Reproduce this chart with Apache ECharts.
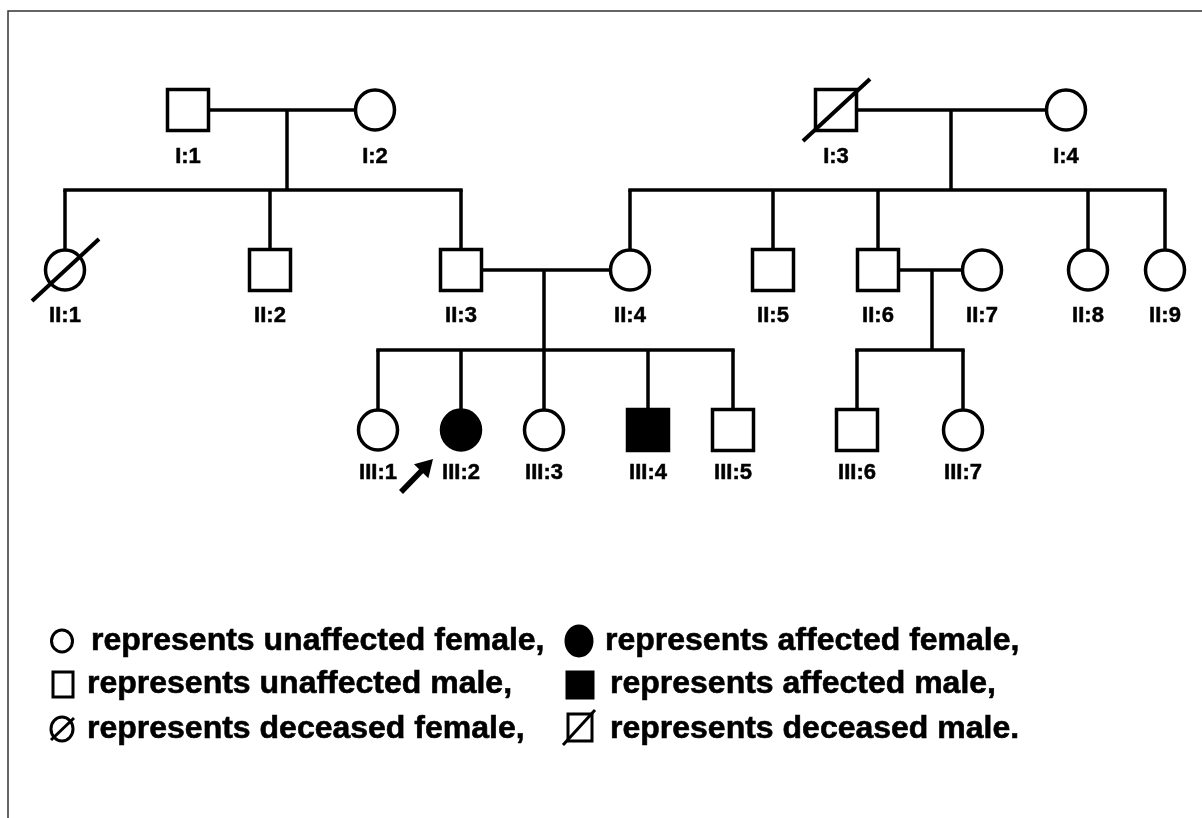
<!DOCTYPE html>
<html>
<head>
<meta charset="utf-8">
<script src="https://cdn.jsdelivr.net/npm/echarts@6/dist/echarts.min.js"></script>
<style>
  html, body { margin: 0; padding: 0; background: #fff; }
  #chart { width: 1202px; height: 818px; }
</style>
</head>
<body>
<div id="chart"></div>
<script>
// individuals of the pedigree
const people = ['I:1', 'I:2', 'I:3', 'I:4',
  'II:1', 'II:2', 'II:3', 'II:4', 'II:5', 'II:6', 'II:7', 'II:8', 'II:9',
  'III:1', 'III:2', 'III:3', 'III:4', 'III:5', 'III:6', 'III:7'];
const peopleX = [188, 375, 836, 1066,
  65, 270, 461, 630, 773, 878, 982, 1088, 1165,
  378, 461, 544, 648, 733, 857, 963];
const generation = [0, 0, 0, 0, 1, 1, 1, 1, 1, 1, 1, 1, 1, 2, 2, 2, 2, 2, 2, 2];
const sex = ['M', 'F', 'M', 'F',
  'F', 'M', 'M', 'F', 'M', 'M', 'F', 'F', 'F',
  'F', 'F', 'F', 'M', 'M', 'M', 'F'];
const affected = ['III:2', 'III:4'];
const deceased = ['I:3', 'II:1'];
const proband = 'III:2';
// row of each generation
const genY = [110, 270, 430];

// families: couple, where the line drops, sibship line, children
const couples = [['I:1', 'I:2'], ['I:3', 'I:4'], ['II:3', 'II:4'], ['II:6', 'II:7']];
const dropX = [287, 951, 544, 932];
const sibshipY = [190, 190, 350, 350];
const children = [
  ['II:1', 'II:2', 'II:3'],
  ['II:4', 'II:5', 'II:6', 'II:8', 'II:9'],
  ['III:1', 'III:2', 'III:3', 'III:4', 'III:5'],
  ['III:6', 'III:7']
];

const legendText = [
  'represents unaffected female,', 'represents affected female,',
  'represents unaffected male,', 'represents affected male,',
  'represents deceased female,', 'represents deceased male.'
];

const FONT = "'Liberation Sans', Arial, Helvetica, sans-serif";
const labelDy = [47, 46, 43];
const LW = 3.5;

function idx(name) { return people.indexOf(name); }

const chart = echarts.init(document.getElementById('chart'));

// 家系连线
function renderFamily(params, api) {
  const k = params.dataIndex;
  const [fa, mo] = couples[k];
  const gy = genY[generation[idx(fa)]];
  const a = api.coord([peopleX[idx(fa)], gy]);
  const b = api.coord([peopleX[idx(mo)], gy]);
  const d = api.coord([api.value(0), api.value(1)]);
  const style = { stroke: '#000', lineWidth: LW };
  const els = [];
  els.push({ type: 'line', shape: { x1: a[0], y1: a[1], x2: b[0], y2: b[1] }, style });
  els.push({ type: 'line', shape: { x1: d[0], y1: a[1], x2: d[0], y2: d[1] }, style });
  let xs = children[k].map(c => api.coord([peopleX[idx(c)], genY[generation[idx(c)]]]));
  const minX = Math.min(d[0], ...xs.map(p => p[0]));
  const maxX = Math.max(d[0], ...xs.map(p => p[0]));
  els.push({ type: 'line', shape: { x1: minX - LW / 2, y1: d[1], x2: maxX + LW / 2, y2: d[1] }, style });
  xs.forEach(p => {
    els.push({ type: 'line', shape: { x1: p[0], y1: d[1], x2: p[0], y2: p[1] }, style });
  });
  return { type: 'group', children: els };
}

// 个体符号
function renderPerson(params, api) {
  const i = params.dataIndex;
  const name = people[i];
  const c = api.coord([api.value(0), api.value(1)]);
  const fill = affected.includes(name) ? '#000' : '#fff';
  const style = { fill, stroke: '#000', lineWidth: LW };
  const els = [];
  if (sex[i] === 'M') {
    els.push({ type: 'rect', shape: { x: c[0] - 20.5, y: c[1] - 20.5, width: 41, height: 41 }, style });
  } else {
    els.push({ type: 'ellipse', shape: { cx: c[0], cy: c[1], rx: 19.5, ry: 20 }, style });
  }
  if (deceased.includes(name)) {
    els.push({ type: 'line', shape: { x1: c[0] - 33, y1: c[1] + 31, x2: c[0] + 34, y2: c[1] - 31 },
      style: { stroke: '#000', lineWidth: LW + 0.5 } });
  }
  els.push({
    type: 'text', x: c[0], y: c[1] + labelDy[generation[i]],
    style: { text: name, fill: '#000', font: 'bold 22px ' + FONT, align: 'center', verticalAlign: 'middle',
      stroke: '#000', lineWidth: 0.5 }
  });
  if (name === proband) {
    const tip = [c[0] - 28, c[1] + 29];
    const tail = [c[0] - 60, c[1] + 62];
    const dx = tip[0] - tail[0], dy = tip[1] - tail[1];
    const len = Math.sqrt(dx * dx + dy * dy);
    const ux = dx / len, uy = dy / len;
    const base = [tip[0] - 17 * ux, tip[1] - 17 * uy];
    els.push({ type: 'line', shape: { x1: tail[0], y1: tail[1], x2: base[0] + 2 * ux, y2: base[1] + 2 * uy },
      style: { stroke: '#000', lineWidth: 5.5 } });
    els.push({ type: 'polygon', shape: { points: [tip,
      [base[0] - 10 * uy, base[1] + 10 * ux], [base[0] + 10 * uy, base[1] - 10 * ux]] },
      style: { fill: '#000' } });
  }
  return { type: 'group', children: els };
}

// 图例
const legendX = [62, 579];
const legendRowY = [641, 684, 729];
const legendTextX = [[91, 605], [87, 610], [87, 610]];
const legendEls = [];
const lw = { stroke: '#000', lineWidth: 3 };
legendEls.push({ type: 'ellipse', shape: { cx: legendX[0], cy: legendRowY[0], rx: 10.5, ry: 11 }, style: { fill: '#fff', ...lw } });
legendEls.push({ type: 'ellipse', shape: { cx: legendX[1], cy: legendRowY[0], rx: 13, ry: 15 }, style: { fill: '#000', ...lw } });
legendEls.push({ type: 'rect', shape: { x: 53, y: 672, width: 20, height: 25 }, style: { fill: '#fff', ...lw } });
legendEls.push({ type: 'rect', shape: { x: 567, y: 672, width: 26, height: 26 }, style: { fill: '#000', ...lw } });
legendEls.push({ type: 'ellipse', shape: { cx: legendX[0], cy: legendRowY[2], rx: 11, ry: 12 }, style: { fill: '#fff', ...lw } });
legendEls.push({ type: 'line', shape: { x1: 51, y1: 740, x2: 74, y2: 718 }, style: lw });
legendEls.push({ type: 'rect', shape: { x: 568, y: 714, width: 24, height: 27 }, style: { fill: '#fff', ...lw } });
legendEls.push({ type: 'line', shape: { x1: 563, y1: 745, x2: 595, y2: 710 }, style: lw });
legendText.forEach((t, j) => {
  const r = Math.floor(j / 2), col = j % 2;
  legendEls.push({ type: 'text', x: legendTextX[r][col], y: legendRowY[r],
    style: { text: t, fill: '#000', font: 'bold 32px ' + FONT, verticalAlign: 'middle',
      stroke: '#000', lineWidth: 0.6 } });
});
// frame
legendEls.push({ type: 'polyline', shape: { points: [[8, 818], [8, 11], [1202, 11]] },
  style: { stroke: '#333', lineWidth: 1.5, fill: null } });

const option = {
  animation: false,
  grid: { left: 0, right: 0, top: 0, bottom: 0 },
  xAxis: { type: 'value', min: 0, max: 1202, show: false },
  yAxis: { type: 'value', min: 0, max: 818, inverse: true, show: false },
  graphic: legendEls,
  series: [
    {
      type: 'custom', z: 1, renderItem: renderFamily,
      data: dropX.map((x, k) => [x, sibshipY[k]])
    },
    {
      type: 'custom', z: 2, renderItem: renderPerson,
      data: people.map((n, i) => [peopleX[i], genY[generation[i]]])
    }
  ]
};
chart.setOption(option);
window.addEventListener('resize', function () { chart.resize(); });
</script>
</body>
</html>
